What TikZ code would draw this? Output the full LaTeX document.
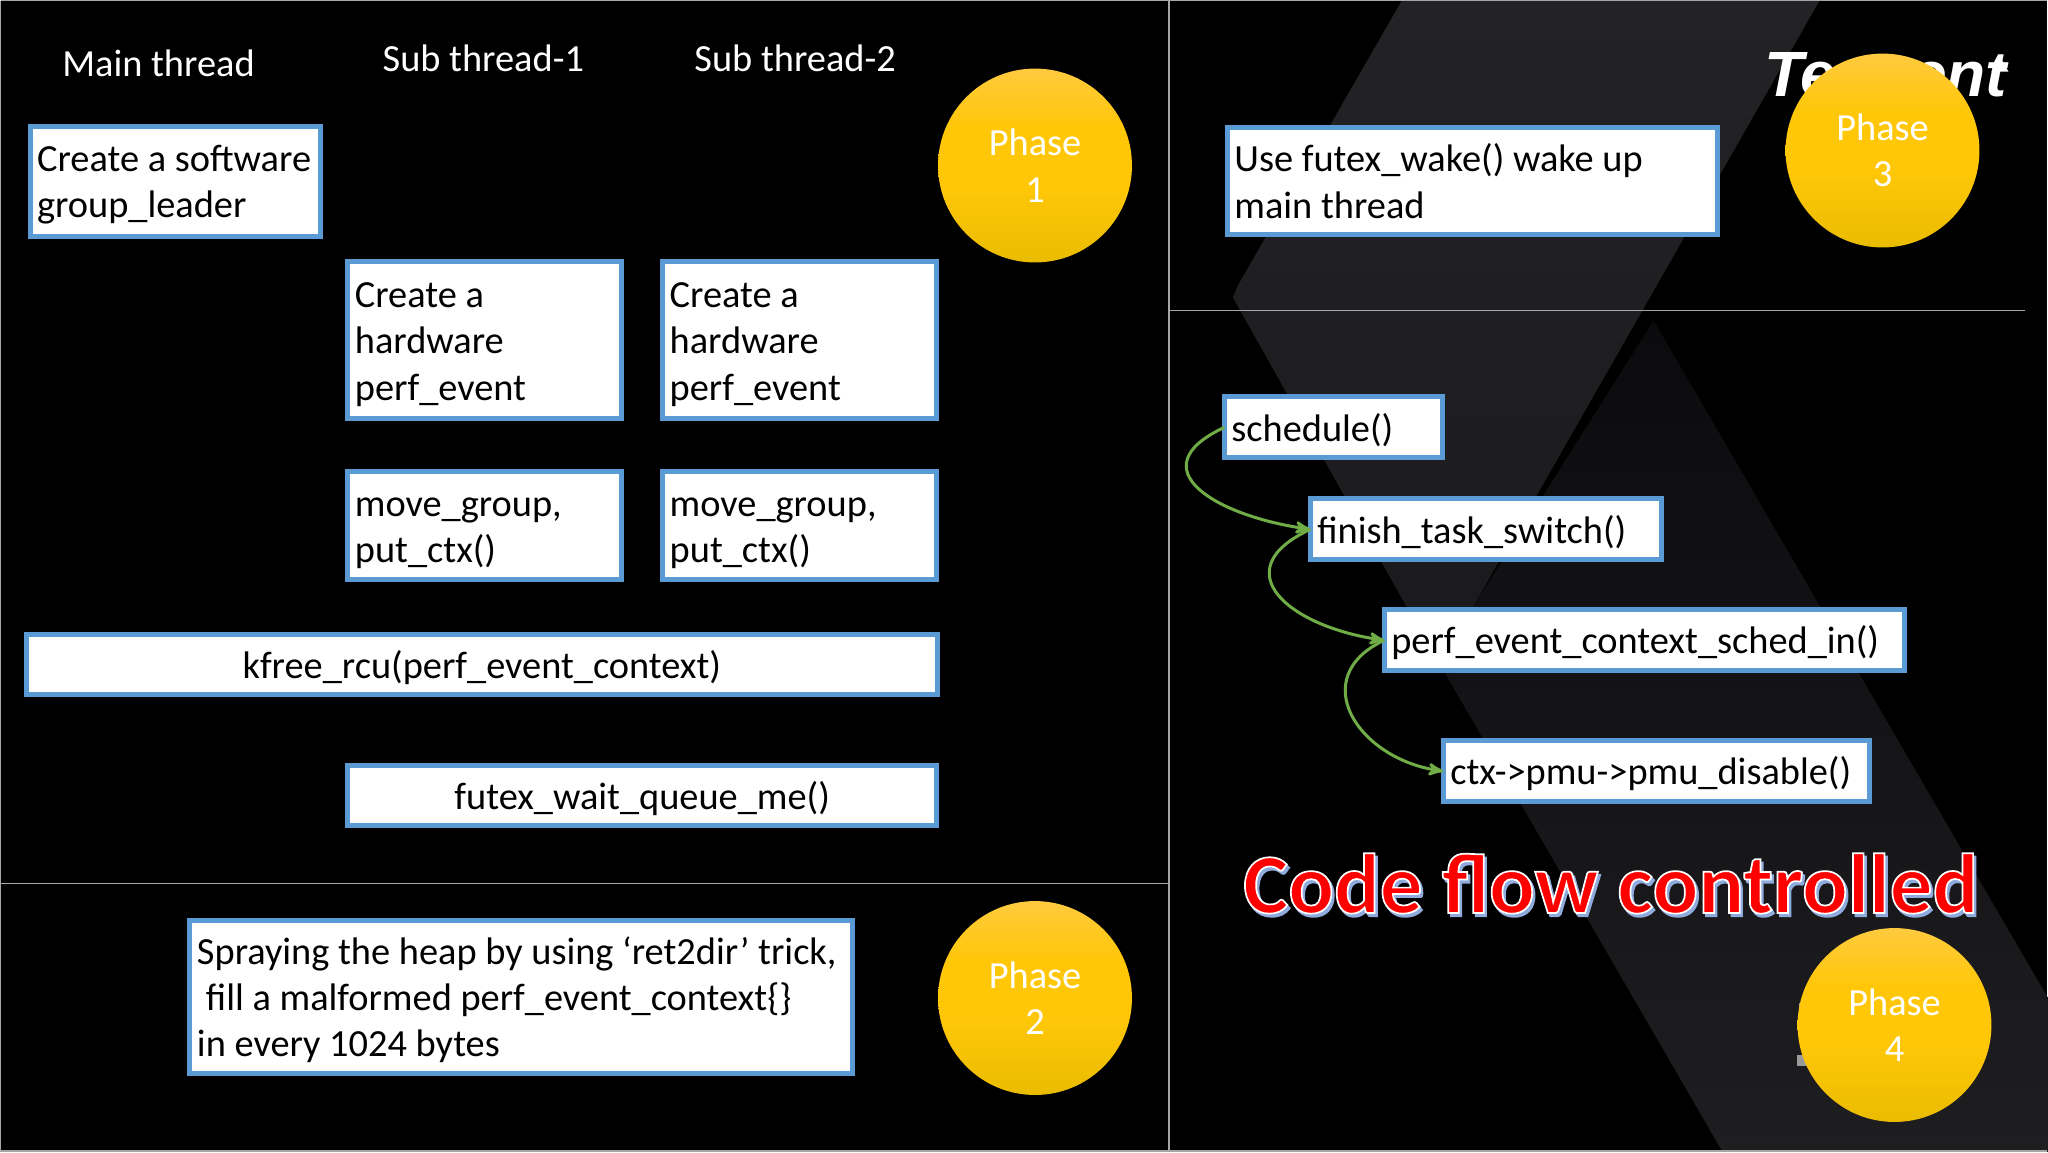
\documentclass[tikz,border=0pt]{standalone}
\usepackage{fontspec}
\setmainfont{Carlito}
\newfontfamily\logofont{Liberation Sans}
\newfontfamily\flowfont[FakeBold=2]{Carlito Bold}
\usetikzlibrary{arrows,positioning}
\definecolor{BoxBlue}{HTML}{5B9BD5}
\definecolor{LinkGreen}{HTML}{70AD47}
\definecolor{BandGray}{HTML}{1E1E20}
\definecolor{BandDark}{HTML}{0B0B0D}
\definecolor{BandHigh}{HTML}{232325}
\definecolor{BandLow}{HTML}{1B1B1D}
\definecolor{RuleGray}{HTML}{A6A6A6}
\definecolor{StubGray}{HTML}{9A9A9A}
\definecolor{ShadowBlue}{HTML}{8FAADC}
\definecolor{PhaseTop}{HTML}{FFCA3E}
\definecolor{PhaseMid}{HTML}{FFC708}
\definecolor{PhaseLow}{HTML}{EABC00}
\pgfdeclareverticalshading{phaseball}{100bp}{color(0bp)=(PhaseLow); color(25bp)=(PhaseLow);
    color(45bp)=(PhaseMid); color(60bp)=(PhaseMid); color(75bp)=(PhaseTop); color(100bp)=(PhaseTop)}
\newcommand{\flowtitle}[1]{%
    \rlap{\kern 1.2pt\raisebox{-1.6pt}{\color{ShadowBlue}#1}}%
    {\color{red}\special{pdf:code 1 1 1 RG}#1}}
\begin{document}
\begin{tikzpicture}[>=stealth',x=0.5pt,y=-0.5pt]
    \tikzset{sized/.style 2 args = {minimum width  = #1pt,
                                    minimum height = #2pt,
                                    text width     = #1pt-7pt}}
    \tikzstyle{TextStyle}=[font       = \fontsize{19.2}{23.2}\selectfont,
                           text       = black,
                           inner xsep = 3.5pt,
                           inner ysep = 0pt,
                           outer sep  = 0pt]
    \tikzstyle{BoxStyle}=[TextStyle,
                          fill       = white,
                          draw       = BoxBlue,
                          line width = 2.5pt,
                          align      = flush left]
    \tikzstyle{LowBoxStyle}=[BoxStyle,
                             execute at begin node = \rule{0pt}{16.5pt}]
    \tikzstyle{HeadStyle}=[TextStyle,
                           text = white]
    \tikzstyle{PhaseStyle}=[TextStyle,
                            shape        = circle,
                            minimum size = 97pt,
                            inner sep    = 0pt,
                            shading      = phaseball,
                            text         = white,
                            align        = center]
    \tikzstyle{EdgeStyle}=[->,
                           draw       = LinkGreen,
                           line width = 1.5pt]
    % backdrop
    \fill[black] (0,0) rectangle (2048,1152);
    \shade[top color=BandDark,middle color=BandLow,bottom color=BandGray]
        (1654,320) -- (2048,997) -- (2048,1152) -- (1723,1152) -- (1407,607) -- (1473,607) -- cycle;
    \shade[top color=BandHigh,bottom color=BandLow]
        (1402,0) -- (1820,0) -- (1473,607) -- (1407,607) -- (1233,297) -- (1238,285) -- cycle;
    \draw[RuleGray,line width=0.6pt] (0,0) -- (2048,0);
    \draw[RuleGray,line width=0.6pt] (0,0) -- (0,1152);
    \draw[RuleGray,line width=0.6pt] (0,1151) -- (2048,1151);
    \draw[RuleGray,line width=0.6pt] (1169,0) -- (1169,1152);
    \draw[RuleGray,line width=0.6pt] (0,883) -- (1169,883);
    \draw[RuleGray,line width=0.6pt] (1169,310) -- (2026,310);
    \node[font=\logofont\bfseries\itshape\fontsize{32}{32}\selectfont,text=white] (logo)
        at (1886,74) {Tencent};
    \fill[white] (1992,71) -- (2001,57) -- (2009,71) -- cycle;
    \fill[StubGray] (1799,1003) rectangle (1812,1008);
    \fill[StubGray] (1797,1055) rectangle (1812,1066);
    % phase 1
    \node[HeadStyle] (main) at (158,63) {Main thread};
    \node[HeadStyle] (sub1) at (483,58) {Sub thread-1};
    \node[HeadStyle] (sub2) at (795,58) {Sub thread-2};
    \node[LowBoxStyle,sized={145.5}{55.5},anchor=north west] (leader) at (29.5,125.5)
        {Create a software\\group\_leader};
    \node[LowBoxStyle,sized={137}{78.5},anchor=north west] (hw1) at (347.5,261.5)
        {Create a\\hardware\\perf\_event};
    \node[LowBoxStyle,sized={137}{78.5},right=20.5pt of hw1] (hw2)
        {Create a\\hardware\\perf\_event};
    \node[LowBoxStyle,sized={137}{54},below=26.5pt of hw1] (put1)
        {move\_group,\\put\_ctx()};
    \node[LowBoxStyle,sized={137}{54},right=20.5pt of put1] (put2)
        {move\_group,\\put\_ctx()};
    \node[LowBoxStyle,sized={456}{30},align=center,anchor=north west] (kfree) at (25.5,634.5)
        {kfree\_rcu(perf\_event\_context)};
    \node[LowBoxStyle,sized={294.5}{30},align=center,anchor=north west] (queue) at (347.5,765.5)
        {futex\_wait\_queue\_me()};
    \node[PhaseStyle] (phase1) at (1035,165) {Phase\\1};
    % phase 2
    \node[LowBoxStyle,sized={331.5}{76.5},anchor=north west] (spray) at (189.5,920.5)
        {Spraying the heap by using ‘ret2dir’ trick,\\
         \hspace*{4.5pt}fill a malformed perf\_event\_context\{\}\\
         in every 1024 bytes};
    \node[PhaseStyle] (phase2) at (1035,998) {Phase\\2};
    % phase 3
    \node[BoxStyle,sized={245}{54},anchor=north west] (wake) at (1227.5,126.5)
        {Use futex\_wake() wake up\\main thread};
    \node[PhaseStyle] (phase3) at (1883,150) {Phase\\3};
    % phase 4
    \node[LowBoxStyle,sized={109}{30.5},anchor=north west] (sched) at (1224.5,396.5)
        {schedule()};
    \node[LowBoxStyle,sized={175.5}{30.5},anchor=north west] (finish) at (1310.5,498.5)
        {finish\_task\_switch()};
    \node[LowBoxStyle,sized={260}{30.5},anchor=north west] (perf) at (1384.5,609.5)
        {perf\_event\_context\_sched\_in()};
    \node[LowBoxStyle,sized={213}{30.5},anchor=north west] (pmu) at (1443.5,740.5)
        {ctx->pmu->pmu\_disable()};
    \draw[EdgeStyle] (sched.west) to[out=205,in=172,looseness=1.85] (finish.west);
    \draw[EdgeStyle] (finish.west) to[out=205,in=172,looseness=1.85] (perf.west);
    \draw[EdgeStyle] (perf.west) to[out=205,in=172,looseness=1.55] (pmu.west);
    \node[font=\flowfont\fontsize{42.6}{43}\selectfont] (flow) at (1611,885)
        {\flowtitle{Code flow controlled}};
    \node[PhaseStyle] (phase4) at (1895,1025) {Phase\\4};
\end{tikzpicture}
\end{document}
